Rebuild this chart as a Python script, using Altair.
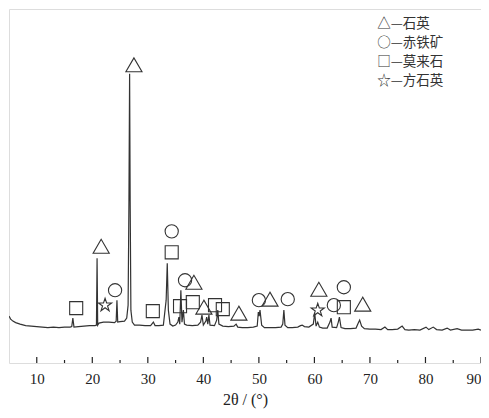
import altair as alt
import pandas as pd

# XRD pattern (2θ, intensity)
two_theta = [5.0, 5.3, 5.7, 6.2, 7.0, 8.0, 9.0, 10.0, 11.0, 12.0, 13.0, 14.0, 15.0, 16.0, 16.3, 16.5, 16.7,
             17.5, 18.5, 19.5, 20.5, 20.75, 20.86, 20.97, 21.2, 22.0, 23.0, 24.0, 24.3, 24.44, 24.58, 25.0,
             25.8, 26.2, 26.45, 26.6, 26.72, 26.82, 26.95, 27.2, 27.6, 28.5, 29.5, 30.5, 31.0, 31.3, 32.0,
             32.8, 33.3, 33.5, 33.7, 34.0, 34.5, 35.0, 35.4, 35.6, 35.75, 35.95, 36.15, 36.4, 36.6, 37.0,
             38.0, 39.0, 39.5, 39.75, 40.0, 40.45, 40.6, 40.8, 41.0, 41.2, 42.0, 42.4, 42.6, 42.8, 43.5,
             44.5, 45.5, 45.9, 46.2, 47.0, 48.0, 49.0, 49.7, 49.9, 50.05, 50.2, 50.5, 51.0, 52.0, 53.0,
             54.0, 54.3, 54.5, 54.7, 55.2, 56.0, 57.0, 57.5, 57.8, 58.2, 59.0, 59.8, 60.05, 60.3, 60.6,
             60.9, 61.5, 62.3, 62.8, 63.0, 63.2, 64.0, 64.3, 64.5, 64.8, 65.5, 66.5, 67.5, 67.9, 68.15,
             68.5, 69.0, 70.0, 71.0, 72.0, 72.7, 73.2, 74.0, 75.0, 75.8, 76.3, 77.0, 78.0, 79.0, 80.1,
             80.6, 81.4, 82.0, 83.0, 83.9, 84.5, 85.7, 86.5, 87.5, 88.5, 89.5, 90.0]
intensity = [47, 44, 42, 40.5, 39, 37.5, 37, 36.5, 36, 35.5, 36, 35.5, 36, 36, 36.5, 45, 36,
             36.5, 37, 37.5, 37.5, 38, 105, 38, 40, 41, 41, 40.5, 42, 63, 41, 41.5,
             42, 45, 58, 163, 290, 163, 53, 41, 38, 38, 37.5, 37.5, 41, 37.5, 37.5,
             38, 63, 100, 53, 39, 37, 38, 41, 46, 39, 73, 41, 53, 39, 38,
             37.5, 38, 41, 48, 38, 42, 46, 39, 48, 38, 37.5, 43, 53, 39, 37,
             36.5, 37, 39, 36, 35.5, 35.5, 36, 37, 51, 47, 53, 38, 35.5, 35.5, 35.5,
             36, 39, 53, 38, 35.5, 35.5, 36, 37.5, 38, 36.5, 36, 39, 50, 37, 41,
             36, 35, 35, 41, 45, 36, 35.5, 41, 46, 35.5, 34.5, 34.5, 35, 40, 43,
             37, 34.5, 34, 34, 33.5, 36, 33.5, 33.5, 34, 37, 33.5, 33, 33.5, 33, 36,
             33.5, 36, 33.5, 33, 35, 33, 34.5, 33, 33, 33, 34, 33]

# phase markers
tri_x = [27.5, 21.6, 38.3, 40.1, 46.4, 52.0, 60.8, 68.7]
tri_y = [299, 117, 81, 56, 50, 64, 74, 59]
cir_x = [24.1, 34.3, 36.7, 50.0, 55.2, 63.5, 65.3]
cir_y = [73, 132, 83, 63, 64, 58, 76]
sq_x = [17.1, 34.3, 30.9, 35.8, 38.1, 42.1, 43.5, 65.3]
sq_y = [55, 111, 52, 57, 61, 58, 54, 56]
star_x = [22.3, 60.6]
star_y = [58, 53]

legend_text = ["△—石英", "○—赤铁矿", "□—莫来石", "☆—方石英"]
legend_y = [340, 321, 302, 283]
legend_x = 71.3

major_ticks = [10, 20, 30, 40, 50, 60, 70, 80, 90]
minor_ticks = [15, 25, 35, 45, 55, 65, 75, 85]

INK = "#333333"
STAR = ("M0,-1 L0.225,-0.309 L0.951,-0.309 L0.363,0.118 L0.588,0.809 L0,0.382 "
        "L-0.588,0.809 L-0.363,0.118 L-0.951,-0.309 L-0.225,-0.309 Z")

xs = alt.Scale(domain=[5, 90], nice=False)
ys = alt.Scale(domain=[0, 355], nice=False)

xaxis = alt.Axis(values=major_ticks, tickSize=0, domain=False, grid=False, labelFont="Liberation Serif",
                 labelFontSize=15, labelColor="#222", labelPadding=8, title="2θ / (°)",
                 titleFont="Liberation Serif", titleFontSize=16, titleFontWeight="normal",
                 titleColor="#222", titlePadding=5)
yaxis = alt.Axis(labels=False, ticks=False, domain=False, grid=False, title=None)

df = pd.DataFrame({"x": two_theta, "y": intensity})
line = alt.Chart(df).mark_line(color=INK, strokeWidth=1.2, clip=True).encode(
    x=alt.X("x:Q", scale=xs, axis=xaxis),
    y=alt.Y("y:Q", scale=ys, axis=yaxis),
)

def markers(xv, yv, shape, size):
    d = pd.DataFrame({"x": xv, "y": yv})
    return alt.Chart(d).mark_point(shape=shape, size=size, filled=False, color=INK,
                                   strokeWidth=1.1, opacity=1).encode(
        x=alt.X("x:Q", scale=xs), y=alt.Y("y:Q", scale=ys))

tri = markers(tri_x, tri_y, "triangle-up", 260)
cir = markers(cir_x, cir_y, "circle", 175)
sq = markers(sq_x, sq_y, "square", 170)
st = markers(star_x, star_y, STAR, 190)

major = alt.Chart(pd.DataFrame({"t": major_ticks})).mark_rule(color="#222", strokeWidth=1.2).encode(
    x=alt.X("t:Q", scale=xs), y=alt.value(354), y2=alt.value(348))
minor = alt.Chart(pd.DataFrame({"t": minor_ticks})).mark_rule(color="#222", strokeWidth=1.2).encode(
    x=alt.X("t:Q", scale=xs), y=alt.value(354), y2=alt.value(351))

leg = alt.Chart(pd.DataFrame({"t": legend_text, "y": legend_y, "x": [legend_x] * 4})).mark_text(
    align="left", baseline="middle", font="Noto Sans CJK SC", fontSize=13.5, color=INK).encode(
    x=alt.X("x:Q", scale=xs), y=alt.Y("y:Q", scale=ys), text="t:N")

chart = alt.layer(line, tri, cir, sq, st, major, minor, leg).properties(
    width=472, height=354,
    autosize=alt.AutoSizeParams(type="none"),
    padding={"left": 1, "top": 1, "right": 0, "bottom": 47},
).configure_view(stroke="#222", strokeWidth=1.5).configure(background="white")

chart.save("out.html", embed_options={"renderer": "svg", "actions": False})
